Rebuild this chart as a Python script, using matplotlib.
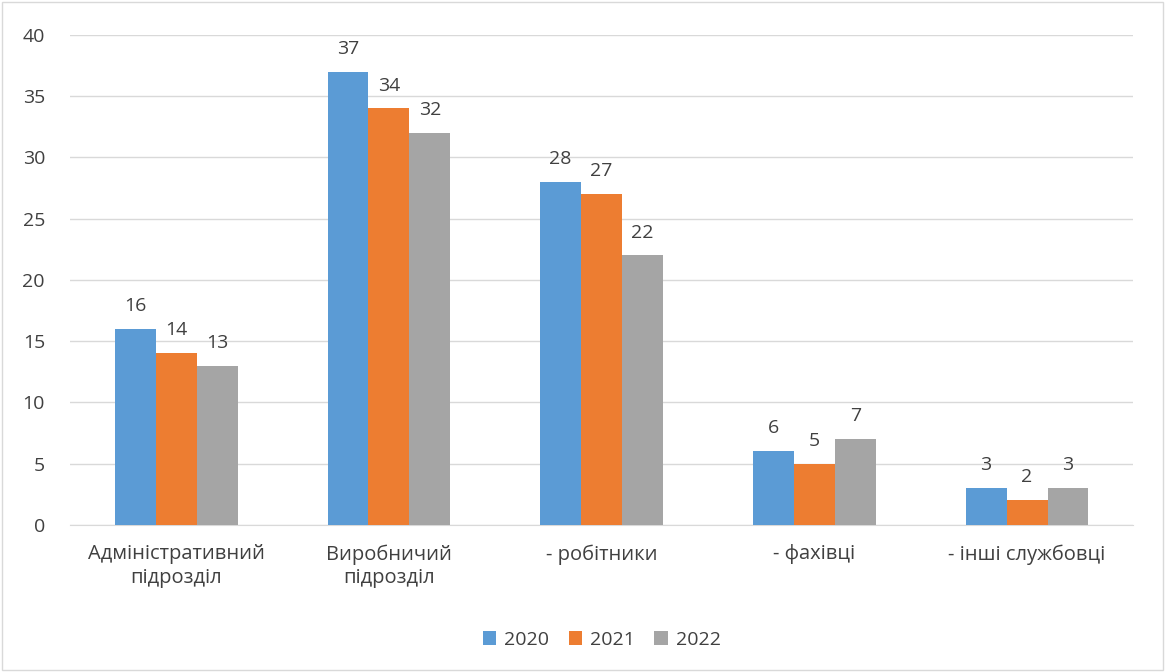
import matplotlib.pyplot as plt
from matplotlib.patches import Rectangle
import numpy as np

categories = ["Адміністративний\nпідрозділ", "Виробничий\nпідрозділ", "- робітники", "- фахівці", "- інші службовці"]
years = ["2020", "2021", "2022"]
v2020 = [16, 37, 28, 6, 3]
v2021 = [14, 34, 27, 5, 2]
v2022 = [13, 32, 22, 7, 3]
colors = ["#5B9BD5", "#ED7D31", "#A5A5A5"]

plt.rcParams['font.family'] = ['Open Sans', 'DejaVu Sans']

fig = plt.figure(figsize=(11.66, 6.72), dpi=100)
ax = fig.add_axes([0.060, 0.219, 0.912, 0.729])

x = np.arange(len(categories))
w = 1 / (3 + 2.19)
for i, (vals, lab, c) in enumerate(zip([v2020, v2021, v2022], years, colors)):
    bars = ax.bar(x + (i - 1) * w, vals, w, color=c, label=lab, zorder=3)
    ax.bar_label(bars, padding=10, fontsize=14, color="#404040")

ax.set_xlim(-0.5, len(categories) - 0.5)
ax.set_ylim(0, 40)
ax.set_yticks(range(0, 41, 5))
ax.set_xticks(x)
ax.set_xticklabels(categories, fontsize=14.5, color="#404040", linespacing=1.25)
ax.tick_params(axis='y', labelsize=14, labelcolor="#404040", length=0, pad=18)
ax.tick_params(axis='x', length=0, pad=14)
ax.grid(axis='y', color="#D9D9D9", linewidth=1, zorder=0)
for s in ['top', 'right', 'left']:
    ax.spines[s].set_visible(False)
ax.spines['bottom'].set_color("#D9D9D9")

ax.legend(loc='center', bbox_to_anchor=(0.5, -0.235), ncol=3, frameon=False,
          fontsize=14, handlelength=0.7, handleheight=0.7, columnspacing=1.0,
          handletextpad=0.4, labelcolor="#404040")

fig.patches.append(Rectangle((0.002, 0.003), 0.995, 0.994, transform=fig.transFigure,
                             fill=False, edgecolor="#D9D9D9", linewidth=1))

fig.savefig("out.png", dpi=100)
